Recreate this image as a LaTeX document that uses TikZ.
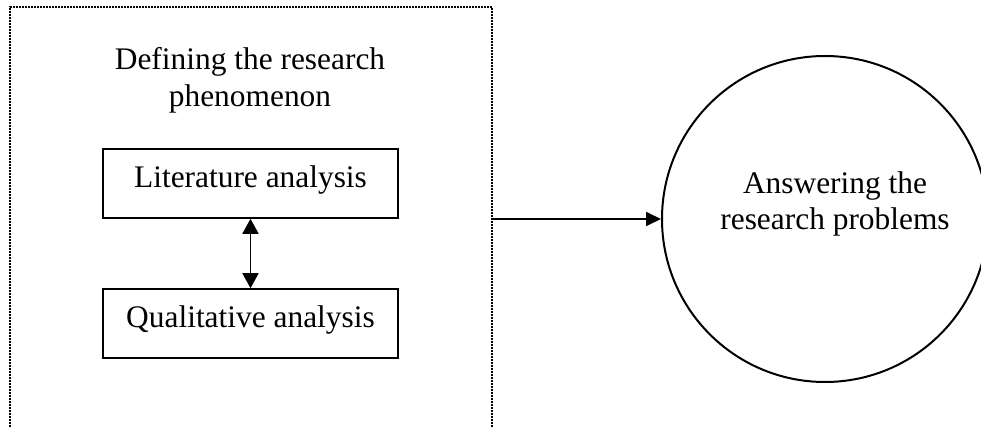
\documentclass[tikz,border=0pt]{standalone}
\usepackage{fontspec}
\setmainfont{Liberation Serif}
\usetikzlibrary{arrows.meta}
\begin{document}
\begin{tikzpicture}[x=0.5pt,y=-0.5pt,
  txt/.style={font=\fontsize{15.7pt}{18pt}\selectfont, inner sep=0pt, anchor=base},
  boxnode/.style={draw, line width=0.8pt, minimum width=147.5pt, minimum height=34.5pt, inner sep=0pt},
  frame/.style={line width=0.9pt, dash pattern=on 0.9pt off 0.6pt},
  conn/.style={line width=0.9pt, -{Triangle[length=7.5pt,width=7pt]}},
  biconn/.style={line width=0.9pt, {Triangle[length=7.5pt,width=8pt]}-{Triangle[length=7.5pt,width=8pt]}}]
\useasboundingbox (0,0) rectangle (981,427);
\clip (0,0) rectangle (981,427);
\draw[frame] (10,430) -- (10,7) -- (492,7) -- (492,430);
\node[txt] (t1) at (250,70) {Defining the research};
\node[txt] (t2) at (250,107) {phenomenon};
\node[boxnode] (lit) at (250.5,183.5) {};
\node[txt] (littxt) at (250.5,188) {Literature analysis};
\node[boxnode] (qual) at (250.5,323.5) {};
\node[txt] (qualtxt) at (250.5,328) {Qualitative analysis};
\draw[biconn] (lit.south) -- (qual.north);
\node[draw, circle, line width=1pt, minimum size=163pt, inner sep=0pt] (goal) at (825,219) {};
\node[txt] (g1) at (835,194) {Answering the};
\node[txt] (g2) at (835,230) {research problems};
\coordinate (out) at (492,219);
\draw[conn] (out) -- (goal.west);
\end{tikzpicture}
\end{document}
